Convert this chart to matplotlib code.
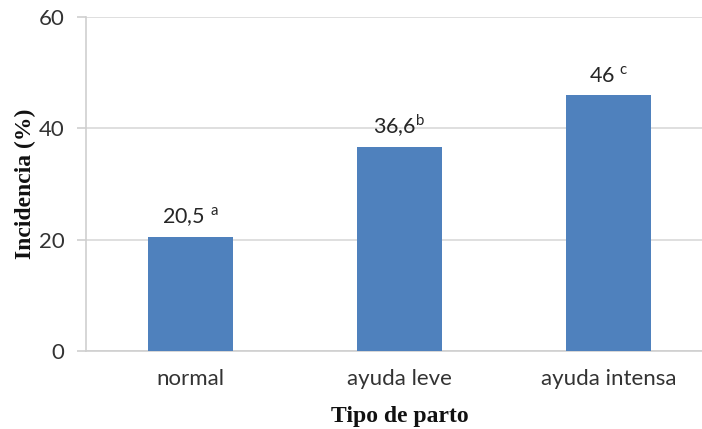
import matplotlib
matplotlib.use('Agg')
import matplotlib.pyplot as plt

# datos
categorias = ['normal', 'ayuda leve', 'ayuda intensa']
incidencia = [20.5, 36.6, 46]
etiquetas = ['20,5 $^{\\mathregular{a}}$', '36,6$^{\\mathregular{b}}$', '46 $^{\\mathregular{c}}$']
yticks = [0, 20, 40, 60]

plt.rcParams['font.family'] = ['Lato', 'DejaVu Sans']
plt.rcParams['mathtext.fontset'] = 'custom'
plt.rcParams['mathtext.rm'] = 'Lato'

fig = plt.figure(figsize=(7.02, 4.29), dpi=100)
# the plot area runs slightly past the right edge, as in the reference
ax = fig.add_axes([86 / 702, 78 / 429, (713 - 86) / 702, 334 / 429])

x = range(len(categorias))
bars = ax.bar(x, incidencia, width=0.404, color='#4f81bd', zorder=3)
ax.bar_label(bars, labels=etiquetas, padding=6, fontsize=15.5, color='#262626')

ax.set_xlim(-0.5, 2.5)
ax.set_ylim(0, 60)
ax.set_yticks(yticks)
ax.set_xticks(list(x))
ax.set_xticklabels(categorias)

ax.grid(axis='y', color='#d9d9d9', linewidth=1.2, zorder=0)
for side in ['top', 'right']:
    ax.spines[side].set_visible(False)
for side in ['left', 'bottom']:
    ax.spines[side].set_color('#cfcfcf')
    ax.spines[side].set_linewidth(1.2)

ax.tick_params(axis='y', direction='out', length=6.5, width=1.2, color='#cfcfcf',
               labelsize=16, labelcolor='#333333', pad=9)
ax.tick_params(axis='x', length=0, labelsize=16, labelcolor='#333333', pad=13)

ax.set_ylabel('Incidencia (%)', family='Liberation Serif', fontweight='bold',
              fontsize=17, color='#111111', labelpad=2)
ax.set_xlabel('Tipo de parto', family='Liberation Serif', fontweight='bold',
              fontsize=17, color='#111111', labelpad=12)

fig.savefig('out.png', dpi=100)
